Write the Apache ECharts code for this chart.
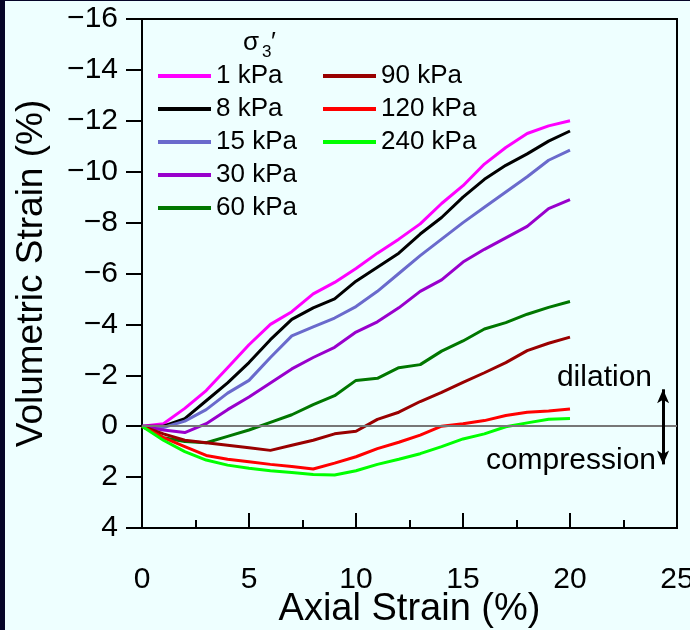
<!DOCTYPE html>
<html>
<head>
<meta charset="utf-8">
<script src="https://cdn.jsdelivr.net/npm/echarts@6/dist/echarts.min.js"></script>
<style>
html,body{margin:0;padding:0;background:#eeffff;}
#c{width:690px;height:630px;}
</style>
</head>
<body>
<div id="c"></div>
<script>
const axialStrain = [0,1,2,3,4,5,6,7,8,9,10,11,12,13,14,15,16,17,18,19,20];
const seriesNames = ['1 kPa','8 kPa','15 kPa','30 kPa','60 kPa','90 kPa','120 kPa','240 kPa'];
const s1kPa   = [0,-0.1,-0.7,-1.4,-2.3,-3.2,-4.0,-4.5,-5.2,-5.65,-6.2,-6.8,-7.35,-7.95,-8.75,-9.45,-10.3,-10.95,-11.5,-11.8,-12.0];
const s8kPa   = [0,0,-0.3,-1.0,-1.7,-2.5,-3.4,-4.2,-4.65,-5.0,-5.7,-6.25,-6.8,-7.55,-8.2,-9.0,-9.7,-10.25,-10.7,-11.2,-11.6];
const s15kPa  = [0,0.05,-0.2,-0.65,-1.3,-1.8,-2.7,-3.55,-3.9,-4.25,-4.7,-5.3,-6.0,-6.7,-7.35,-8.0,-8.6,-9.2,-9.8,-10.45,-10.85];
const s30kPa  = [0,0.15,0.25,-0.1,-0.65,-1.15,-1.7,-2.25,-2.7,-3.1,-3.7,-4.1,-4.65,-5.3,-5.75,-6.45,-6.95,-7.4,-7.85,-8.55,-8.9];
const s60kPa  = [0,0.45,0.6,0.65,0.4,0.15,-0.15,-0.45,-0.85,-1.2,-1.8,-1.88,-2.3,-2.42,-2.95,-3.35,-3.82,-4.07,-4.4,-4.67,-4.9];
const s90kPa  = [0,0.3,0.55,0.65,0.75,0.85,0.95,0.75,0.55,0.3,0.2,-0.27,-0.55,-0.97,-1.33,-1.72,-2.1,-2.5,-2.97,-3.26,-3.5];
const s120kPa = [0,0.45,0.8,1.15,1.3,1.4,1.5,1.58,1.68,1.45,1.2,0.88,0.63,0.35,0.0,-0.1,-0.22,-0.42,-0.55,-0.6,-0.68];
const s240kPa = [0,0.55,1.0,1.33,1.53,1.65,1.75,1.82,1.9,1.92,1.75,1.5,1.3,1.08,0.8,0.5,0.3,0.02,-0.13,-0.27,-0.3];
const allValues = [s1kPa,s8kPa,s15kPa,s30kPa,s60kPa,s90kPa,s120kPa,s240kPa];
const colors = ['#ff00ff','#000000','#6a6acc','#9900cc','#007700','#990000','#ff0000','#00ff00'];
const xTicks = {min:0,max:25,interval:5};
const yTicks = {min:-16,max:4,interval:2};

const chart = echarts.init(document.getElementById('c'));
const FONT = 'Liberation Sans, Arial, sans-serif';

const series = seriesNames.map((name,i)=>({
  name:name,
  type:'line',
  data: axialStrain.map((x,j)=>[x,allValues[i][j]]),
  showSymbol:false,
  symbol:'none',
  lineStyle:{color:colors[i],width:3},
  itemStyle:{color:colors[i]},
  z: 3,
  animation:false
}));
series.push({
  type:'line', data:[], silent:true, animation:false,
  markLine:{
    silent:true, symbol:['none','none'], label:{show:false},
    lineStyle:{color:'#777777',width:2,type:'solid'},
    data:[{yAxis:0}],
    animation:false
  },
  z:2
});
series.push({
  type:'line', data:[], silent:true, animation:false,
  markLine:{
    silent:true, symbol:['arrow','arrow'], symbolSize:[9,14], label:{show:false},
    lineStyle:{color:'#000000',width:3,type:'solid'},
    data:[[{coord:[24.35,-1.45]},{coord:[24.35,1.5]}]],
    animation:false
  }
});

const legendCommon = {
  orient:'vertical', icon:'rect', itemWidth:53, itemHeight:4, itemGap:7, itemTextGap:9,
  textStyle:{fontFamily:FONT,fontSize:26,color:'#000'}, selectedMode:false, top:58
};
const minusFmt = v => String(v).replace('-', '\u2212');

chart.setOption({
  backgroundColor:'#eeffff',
  animation:false,
  grid:{left:142,right:13,top:19,bottom:102,show:true,borderColor:'#000',borderWidth:2,backgroundColor:'transparent',containLabel:false,outerBoundsMode:'none'},
  legend:[
    Object.assign({left:153,data:seriesNames.slice(0,5)},legendCommon),
    Object.assign({left:318,data:seriesNames.slice(5)},legendCommon)
  ],
  xAxis:{
    type:'value', min:xTicks.min, max:xTicks.max, interval:xTicks.interval,
    name:'Axial Strain (%)', nameLocation:'middle', nameGap:63, nameMoveOverlap:false,
    nameTextStyle:{fontFamily:FONT,fontSize:38,color:'#000'},
    axisLine:{onZero:false,lineStyle:{color:'#000',width:2}},
    axisTick:{show:true,inside:true,length:15,lineStyle:{color:'#000',width:2}},
    minorTick:{show:true,splitNumber:2,length:8,lineStyle:{color:'#000',width:2}},
    splitLine:{show:false},
    axisLabel:{fontFamily:FONT,fontSize:30,color:'#000',margin:37,formatter:minusFmt}
  },
  yAxis:{
    type:'value', inverse:true, min:yTicks.min, max:yTicks.max, interval:yTicks.interval,
    name:'Volumetric Strain (%)', nameLocation:'middle', nameGap:92, nameRotate:90, nameMoveOverlap:false,
    nameTextStyle:{fontFamily:FONT,fontSize:37,color:'#000'},
    axisLine:{onZero:false,lineStyle:{color:'#000',width:2}},
    axisTick:{show:true,inside:false,length:16,lineStyle:{color:'#000',width:2}},
    splitLine:{show:false},
    axisLabel:{fontFamily:FONT,fontSize:30,color:'#000',margin:24,formatter:minusFmt}
  },
  graphic:[
    {type:'rect',shape:{x:0,y:0,width:5,height:630},style:{fill:'#050528'},z:100},
    {type:'rect',shape:{x:0,y:0,width:690,height:1},style:{fill:'#050528'},z:100},
    {type:'text',x:243,y:30,style:{text:'σ',font:'26px '+FONT,fill:'#000'}},
    {type:'text',x:262,y:44,style:{text:'3',font:'17px '+FONT,fill:'#000'}},
    {type:'text',x:271,y:30,style:{text:'′',font:'26px '+FONT,fill:'#000'}},
    {type:'text',x:652,y:393,style:{text:'dilation',font:'30px '+FONT,fill:'#000',textAlign:'right',textVerticalAlign:'bottom'}},
    {type:'text',x:656,y:476,style:{text:'compression',font:'30px '+FONT,fill:'#000',textAlign:'right',textVerticalAlign:'bottom'}}
  ],
  series:series
});
</script>
</body>
</html>
